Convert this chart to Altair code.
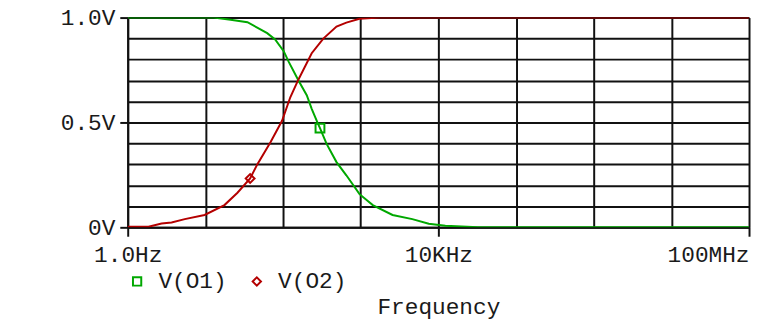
import altair as alt
import pandas as pd

# ---- data ----
series_names = ["V(O1)", "V(O2)"]
series_colors = ["#00a800", "#b40000"]
series_shapes = ["square", "diamond"]

freq_o1 = [1, 12.8, 21.1, 34.8, 62.5, 79.1, 102, 118, 158, 202, 234, 277, 299,
           364, 488, 653, 966, 1430, 2570, 4620, 7520, 12300, 32300, 1e8]
v_o1 = [1.0, 1.0, 0.99, 0.978, 0.926, 0.896, 0.84, 0.79, 0.70, 0.63, 0.565, 0.50,
        0.473, 0.398, 0.311, 0.248, 0.158, 0.106, 0.059, 0.039, 0.017, 0.007, 0.0, 0.0]

freq_o2 = [1, 1.85, 2.73, 3.67, 5.43, 9.77, 17.6, 25.9, 37.7, 46.6, 68.9, 97.1,
           124, 158, 234, 330, 488, 653, 966, 1738, 1e8]
v_o2 = [0.003, 0.003, 0.018, 0.023, 0.039, 0.059, 0.106, 0.165, 0.233, 0.30, 0.406,
        0.508, 0.62, 0.705, 0.83, 0.90, 0.957, 0.976, 0.994, 1.0, 1.0]

marker_freq = [299, 37.7]
marker_v = [0.473, 0.233]

x_grid_values = [1, 10, 100, 1000, 10000, 100000, 1000000, 10000000, 100000000]
x_label_values = [1, 10000, 100000000]
x_label_texts = ["1.0Hz", "10KHz", "100MHz"]

y_grid_values = [0.0, 0.1, 0.2, 0.3, 0.4, 0.5, 0.6, 0.7, 0.8, 0.9, 1.0]
y_label_values = [0.0, 0.5, 1.0]
y_label_texts = ["0V", "0.5V", "1.0V"]

# ---- tables ----
series_freqs = [freq_o1, freq_o2]
series_values = [v_o1, v_o2]
markers = pd.DataFrame({"freq": marker_freq, "v": marker_v, "series": series_names})


def label_expr(vals, texts):
    e = "''"
    for v, t in reversed(list(zip(vals, texts))):
        e = f"datum.value == {v!r} ? '{t}' : ({e})"
    return e


def test_expr(vals):
    return " || ".join(f"datum.value == {v!r}" for v in vals)


FONT = "Liberation Mono"
FS = 23
TXT = "#1a1a1a"
INK = "#111111"

x_scale = alt.Scale(type="log", domain=[1, 1e8], nice=False)
y_scale = alt.Scale(domain=[0, 1], nice=False, zero=False)

x_axis = alt.Axis(
    values=x_grid_values, tickCount=100,
    grid=True, gridColor=INK, gridWidth=2, gridOpacity=1,
    domainColor=INK, domainWidth=2,
    tickColor=INK, tickWidth=2, tickSize=9,
    tickOpacity={"condition": {"test": test_expr(x_label_values), "value": 1}, "value": 0},
    labelExpr=label_expr(x_label_values, x_label_texts),
    labelAlign={"condition": {"test": f"datum.value == {x_label_values[-1]!r}", "value": "right"},
                "value": "center"},
    labelFlush=False, labelOverlap=False, labelPadding=8,
    labelFont=FONT, labelFontSize=FS, labelColor=TXT,
    title="Frequency", titleFont=FONT, titleFontSize=FS, titleColor=TXT,
    titleFontWeight="normal", titlePadding=29,
)
y_axis = alt.Axis(
    values=y_grid_values, tickCount=100,
    grid=True, gridColor=INK, gridWidth=2, gridOpacity=1,
    domainColor=INK, domainWidth=2,
    tickColor=INK, tickWidth=2, tickSize=8,
    tickOpacity={"condition": {"test": test_expr(y_label_values), "value": 1}, "value": 0},
    labelExpr=label_expr(y_label_values, y_label_texts),
    labelOverlap=False, labelPadding=5, labelFlush=False,
    labelFont=FONT, labelFontSize=FS, labelColor=TXT,
    title=None,
)

color_scale = alt.Scale(domain=series_names, range=series_colors)
shape_scale = alt.Scale(domain=series_names, range=series_shapes)

line_layers = []
for i, (name, col) in enumerate(zip(series_names, series_colors)):
    df = pd.DataFrame({"freq": series_freqs[i], "v": series_values[i]})
    enc_x = alt.X("freq:Q", scale=x_scale, axis=x_axis if i == 0 else alt.Undefined)
    enc_y = alt.Y("v:Q", scale=y_scale, axis=y_axis if i == 0 else alt.Undefined)
    line_layers.append(
        alt.Chart(df).mark_line(strokeWidth=2, color=col, clip=True).encode(x=enc_x, y=enc_y)
    )

legend = alt.Legend(
    orient="none", legendX=-2, legendY=255, direction="horizontal", title=None,
    labelFont=FONT, labelFontSize=FS, labelColor=TXT,
    symbolStrokeWidth=2, symbolSize=70, labelOffset=10, columnPadding=18,
    padding=0,
)

marker_layer = alt.Chart(markers).mark_point(filled=False, strokeWidth=2, size=80, opacity=1).encode(
    x=alt.X("freq:Q", scale=x_scale),
    y=alt.Y("v:Q", scale=y_scale),
    color=alt.Color("series:N", scale=color_scale, legend=legend),
    shape=alt.Shape("series:N", scale=shape_scale, legend=legend),
)

chart = alt.layer(*line_layers, marker_layer).properties(
    width=628, height=212,
    padding={"left": 121, "top": 8, "right": 2, "bottom": 93},
    autosize=alt.AutoSizeParams(type="none"),
    background="white",
).configure_view(stroke=None)

chart.save("out.html", embed_options={"renderer": "svg", "actions": False})
